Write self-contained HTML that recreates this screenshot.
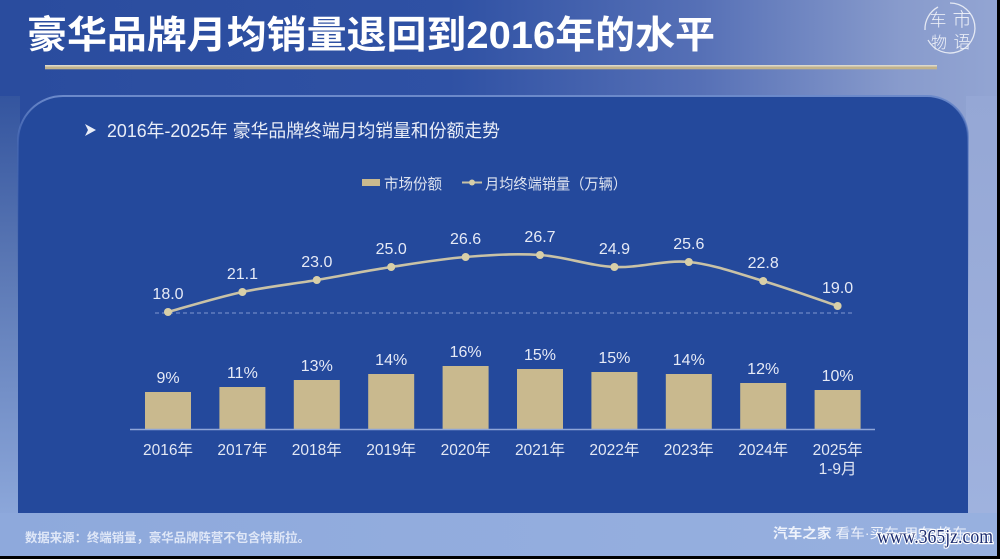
<!DOCTYPE html>
<html>
<head>
<meta charset="utf-8">
<style>
html,body{margin:0;padding:0;background:#000;}
body{width:1000px;height:559px;overflow:hidden;}
svg{display:block;}
</style>
</head>
<body>
<svg width="1000" height="559" viewBox="0 0 1000 559" xmlns="http://www.w3.org/2000/svg" font-family="Liberation Sans, Noto Sans CJK SC, sans-serif">
  <defs>
    <linearGradient id="topg" x1="0" y1="0" x2="1" y2="0">
      <stop offset="0" stop-color="#2a4c9e"/>
      <stop offset="0.45" stop-color="#2f51a4"/>
      <stop offset="0.7" stop-color="#5670b6"/>
      <stop offset="0.9" stop-color="#889bcc"/>
      <stop offset="1" stop-color="#93a5d3"/>
    </linearGradient>
    <linearGradient id="leftg" x1="0" y1="0" x2="0" y2="1">
      <stop offset="0" stop-color="#34559f"/>
      <stop offset="0.4" stop-color="#5a77b4"/>
      <stop offset="1" stop-color="#8ca7da"/>
    </linearGradient>
    <linearGradient id="rightg" x1="0" y1="0" x2="0" y2="1">
      <stop offset="0" stop-color="#95a7d5"/>
      <stop offset="1" stop-color="#9fb2de"/>
    </linearGradient>
    <linearGradient id="botg" x1="0" y1="0" x2="1" y2="0">
      <stop offset="0" stop-color="#8ea9dc"/>
      <stop offset="1" stop-color="#97b0df"/>
    </linearGradient>
    <linearGradient id="edgeg" x1="0" y1="0" x2="0" y2="1">
      <stop offset="0" stop-color="#6c8acb" stop-opacity="1"/>
      <stop offset="0.25" stop-color="#4a6cb8" stop-opacity="0.5"/>
      <stop offset="1" stop-color="#24499c" stop-opacity="0"/>
    </linearGradient>
  </defs>

  <!-- background -->
  <rect x="0" y="0" width="1000" height="559" fill="url(#topg)"/>
  <rect x="0" y="96" width="20" height="420" fill="url(#leftg)"/>
  <rect x="966" y="96" width="34" height="420" fill="url(#rightg)"/>
  <rect x="0" y="513" width="1000" height="43" fill="url(#botg)"/>

  <!-- title -->
  <text x="27" y="48" font-size="38" font-weight="bold" fill="#ffffff" textLength="688" lengthAdjust="spacingAndGlyphs">豪华品牌月均销量退回到2016年的水平</text>

  <!-- gold rule -->
  <rect x="45" y="65" width="892" height="1.5" fill="#dcd8cb"/>
  <rect x="45" y="66.5" width="892" height="2.8" fill="#c2b38c"/>

  <!-- logo -->
  <g stroke="#eef1f8" fill="none" stroke-width="1.3" opacity="0.9">
    <path d="M950,3 A25,25 0 1 1 928,40"/>
    <path d="M925,30 A25,25 0 0 1 938,7"/>
  </g>
  <g style="font-family:'Noto Sans CJK SC',sans-serif" fill="#f2f4fa" text-anchor="middle" font-weight="300">
    <text x="938" y="26" font-size="17">车</text>
    <text x="962" y="26" font-size="19">市</text>
    <text x="939" y="48" font-size="16">物</text>
    <text x="962" y="48" font-size="17">语</text>
  </g>

  <!-- panel -->
  <path d="M18,513 L18,141 A45,45 0 0 1 63,96 L927,96 A41,41 0 0 1 968,137 L968,513 Z" fill="#24499c"/>
  <path d="M18,300 L18,141 A45,45 0 0 1 63,96 L927,96 A41,41 0 0 1 968,137 L968,300" fill="none" stroke="url(#edgeg)" stroke-width="2"/>

  <!-- subtitle -->
  <polygon points="85,124 96,130 85,136 88,130" fill="#e9edf7"/>
  <text x="107" y="137" font-size="18" fill="#e9edf7" textLength="393" lengthAdjust="spacingAndGlyphs">2016年-2025年 豪华品牌终端月均销量和份额走势</text>

  <!-- legend -->
  <rect x="362" y="179" width="18" height="7" fill="#c9b98e"/>
  <text x="384" y="189" font-size="15" fill="#dfe4f0" textLength="58" lengthAdjust="spacingAndGlyphs">市场份额</text>
  <line x1="462" y1="182.5" x2="482" y2="182.5" stroke="#c9c2a6" stroke-width="2"/>
  <circle cx="472" cy="182.5" r="3" fill="#d6cea8"/>
  <text x="485" y="189" font-size="15" fill="#dfe4f0" textLength="142" lengthAdjust="spacingAndGlyphs">月均终端销量（万辆）</text>

  <!-- dashed baseline for line -->
  <line x1="155" y1="313" x2="855" y2="313" stroke="#7f98cf" stroke-width="1" stroke-dasharray="4 3"/>

  <!-- line series -->
  <path d="M168,312 C180.4,308.67 217.6,297.33 242.4,292 C267.2,286.67 292,284.17 316.8,280 C341.6,275.83 366.4,270.83 391.2,267 C416,263.17 440.8,259 465.6,257 C490.4,255 515.2,253.33 540,255 C564.8,256.67 589.6,265.83 614.4,267 C639.2,268.17 664,259.67 688.8,262 C713.6,264.33 738.4,273.67 763.2,281 C788,288.33 825.2,301.83 837.6,306" fill="none" stroke="#c9c2a6" stroke-width="2.6"/>
  <g fill="#d8cfa8">
    <circle cx="168" cy="312" r="4"/>
    <circle cx="242.4" cy="292" r="4"/>
    <circle cx="316.8" cy="280" r="4"/>
    <circle cx="391.2" cy="267" r="4"/>
    <circle cx="465.6" cy="257" r="4"/>
    <circle cx="540" cy="255" r="4"/>
    <circle cx="614.4" cy="267" r="4"/>
    <circle cx="688.8" cy="262" r="4"/>
    <circle cx="763.2" cy="281" r="4"/>
    <circle cx="837.6" cy="306" r="4"/>
  </g>
  <g font-size="16" fill="#e6eaf6" text-anchor="middle">
    <text x="168" y="299">18.0</text>
    <text x="242.4" y="279">21.1</text>
    <text x="316.8" y="267">23.0</text>
    <text x="391.2" y="254">25.0</text>
    <text x="465.6" y="244">26.6</text>
    <text x="540" y="242">26.7</text>
    <text x="614.4" y="254">24.9</text>
    <text x="688.8" y="249">25.6</text>
    <text x="763.2" y="268">22.8</text>
    <text x="837.6" y="293">19.0</text>
  </g>

  <!-- bars -->
  <g fill="#c9b98e">
    <rect x="145" y="392" width="46" height="37"/>
    <rect x="219.4" y="387" width="46" height="42"/>
    <rect x="293.8" y="380" width="46" height="49"/>
    <rect x="368.2" y="374" width="46" height="55"/>
    <rect x="442.6" y="366" width="46" height="63"/>
    <rect x="517" y="369" width="46" height="60"/>
    <rect x="591.4" y="372" width="46" height="57"/>
    <rect x="665.8" y="374" width="46" height="55"/>
    <rect x="740.2" y="383" width="46" height="46"/>
    <rect x="814.6" y="390" width="46" height="39"/>
  </g>
  <line x1="130" y1="429.5" x2="875" y2="429.5" stroke="#8fa6d8" stroke-width="1.5"/>
  <g font-size="16" fill="#e6eaf6" text-anchor="middle">
    <text x="168" y="383">9%</text>
    <text x="242.4" y="378">11%</text>
    <text x="316.8" y="371">13%</text>
    <text x="391.2" y="365">14%</text>
    <text x="465.6" y="357">16%</text>
    <text x="540" y="360">15%</text>
    <text x="614.4" y="363">15%</text>
    <text x="688.8" y="365">14%</text>
    <text x="763.2" y="374">12%</text>
    <text x="837.6" y="381">10%</text>
  </g>

  <!-- x labels -->
  <g font-size="15.5" fill="#e3e8f4" text-anchor="middle">
    <text x="168" y="455">2016年</text>
    <text x="242.4" y="455">2017年</text>
    <text x="316.8" y="455">2018年</text>
    <text x="391.2" y="455">2019年</text>
    <text x="465.6" y="455">2020年</text>
    <text x="540" y="455">2021年</text>
    <text x="614.4" y="455">2022年</text>
    <text x="688.8" y="455">2023年</text>
    <text x="763.2" y="455">2024年</text>
    <text x="837.6" y="455">2025年</text>
    <text x="837.6" y="474">1-9月</text>
  </g>

  <!-- footer -->
  <text x="25" y="542" font-size="12.5" font-weight="bold" fill="#dfe7f7" textLength="285" lengthAdjust="spacingAndGlyphs">数据来源：终端销量，豪华品牌阵营不包含特斯拉。</text>
  <text x="773" y="538" font-size="13.5" fill="#eef2fb" textLength="194" lengthAdjust="spacingAndGlyphs"><tspan font-weight="bold">汽车之家</tspan> 看车·买车·用车·换车</text>
  <text x="877" y="543" font-size="20" fill="#1b2c70" stroke="#ffffff" stroke-width="2.5" paint-order="stroke" style="font-family:'Liberation Serif',serif" textLength="116" lengthAdjust="spacingAndGlyphs">www.365jz.com</text>

  <!-- black edges -->
  <rect x="0" y="556" width="1000" height="3" fill="#000"/>
  <rect x="997" y="0" width="3" height="559" fill="#000"/>
</svg>
</body>
</html>
